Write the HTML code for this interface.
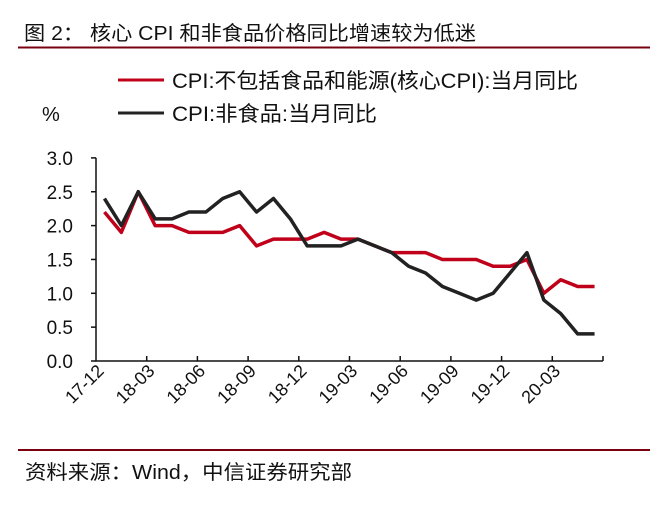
<!DOCTYPE html>
<html><head><meta charset="utf-8"><style>
body{margin:0;background:#fff;}
svg text{font-family:"Liberation Sans","Noto Sans CJK SC",sans-serif;fill:#111;}
</style></head><body>
<svg width="669" height="502">
<text x="24" y="40" font-size="20" textLength="452" lengthAdjust="spacingAndGlyphs">图 2：  核心 CPI 和非食品价格同比增速较为低迷</text>
<line x1="18" y1="47.5" x2="650" y2="47.5" stroke="#7a0010" stroke-width="2"/>
<line x1="118" y1="80" x2="164" y2="80" stroke="#c0001a" stroke-width="3"/>
<text x="172" y="88" font-size="21" textLength="406" lengthAdjust="spacingAndGlyphs">CPI:不包括食品和能源(核心CPI):当月同比</text>
<line x1="118" y1="113" x2="164" y2="113" stroke="#222" stroke-width="3"/>
<text x="172" y="121" font-size="21" textLength="205" lengthAdjust="spacingAndGlyphs">CPI:非食品:当月同比</text>
<text x="42" y="121" font-size="20">%</text>
<g id="plot"></g>
<line x1="18" y1="450" x2="650" y2="450" stroke="#7a0010" stroke-width="2"/>
<text x="25" y="479" font-size="20" textLength="327" lengthAdjust="spacingAndGlyphs">资料来源：Wind，中信证券研究部</text>
</svg>
<script>
const categories=["17-12","18-01","18-02","18-03","18-04","18-05","18-06","18-07","18-08","18-09","18-10","18-11","18-12","19-01","19-02","19-03","19-04","19-05","19-06","19-07","19-08","19-09","19-10","19-11","19-12","20-01","20-02","20-03","20-04","20-05"];
const coreCPI=[2.2,1.9,2.5,2.0,2.0,1.9,1.9,1.9,2.0,1.7,1.8,1.8,1.8,1.9,1.8,1.8,1.7,1.6,1.6,1.6,1.5,1.5,1.5,1.4,1.4,1.5,1.0,1.2,1.1,1.1];
const nonFoodCPI=[2.4,2.0,2.5,2.1,2.1,2.2,2.2,2.4,2.5,2.2,2.4,2.1,1.7,1.7,1.7,1.8,1.7,1.6,1.4,1.3,1.1,1.0,0.9,1.0,1.3,1.6,0.9,0.7,0.4,0.4];
const yTicks=[0.0,0.5,1.0,1.5,2.0,2.5,3.0];
const xLabels=["17-12","18-03","18-06","18-09","18-12","19-03","19-06","19-09","19-12","20-03"];
const NS="http://www.w3.org/2000/svg";
const g=document.getElementById('plot');
const x0=96,bw=16.9,y0=361,ppu=67.7;
const X=i=>x0+(i+0.5)*bw;
const Y=v=>y0-v*ppu;
function el(t,a){const e=document.createElementNS(NS,t);for(const k in a)e.setAttribute(k,a[k]);g.appendChild(e);return e;}
let ax=el('path',{d:`M${x0},${Y(3)} V${y0} H${x0+categories.length*bw}`,stroke:'#111','stroke-width':1.5,fill:'none'});


yTicks.forEach(v=>{
 const t=el('line',{x1:x0-5,x2:x0,y1:Y(v),y2:Y(v),stroke:'#111','stroke-width':1.5});
 
 
 const l=el('text',{x:73,y:Y(v)+7,'font-size':19,'text-anchor':'end'});l.textContent=v.toFixed(1);
 
 
});
for(let k=1;k<=10;k++){
 const xx=x0+k*3*bw;
 const t=el('line',{x1:xx,x2:xx,y1:y0,y2:y0-5,stroke:'#111','stroke-width':1.5});
 
 
}
xLabels.forEach((s,k)=>{
 const xx=x0+k*3*bw+9, yy=y0+11;
 const l=el('text',{x:xx,y:yy,'font-size':18,'text-anchor':'end',transform:`rotate(-45 ${xx} ${yy})`});l.textContent=s;
 
 
});
function line(data,color,name){
 const p=el('polyline',{points:data.map((v,i)=>X(i)+','+Y(v)).join(' '),stroke:color,'stroke-width':3.5,fill:'none','stroke-linejoin':'round'});
 
 
}
line(coreCPI,'#c0001a','core-cpi-line');
line(nonFoodCPI,'#222','nonfood-cpi-line');
</script>
</body></html>
